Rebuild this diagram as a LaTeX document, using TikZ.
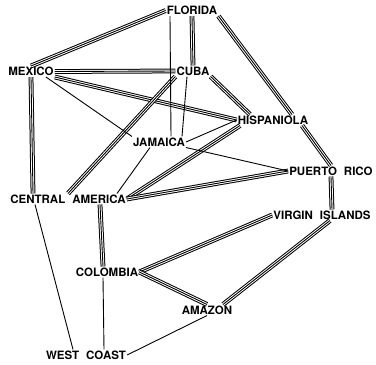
\documentclass[tikz,border=0pt]{standalone}
\usepackage{fontspec}
\setmainfont{TeX Gyre Heros}
\usepackage{tikz}
\usetikzlibrary{calc}

\newcommand{\wsp}{\hspace{7pt}}

\tikzset{
  place/.style={font=\bfseries\fontsize{11.5}{13}\selectfont, inner sep=1pt},
  route/.style={line width=0.9pt},
  mainroute/.style={line width=4.8pt,
    postaction={draw=white, line width=2.8pt},
    postaction={draw=black, line width=0.9pt}},
}

\begin{document}
\begin{tikzpicture}[x=1pt, y=-1pt]
    \useasboundingbox (0,0) rectangle (376,365);
    % Places
    \node[place] (florida) at (192,10.5) {FLORIDA};
    \node[place] (mexico) at (31,71.5) {MEXICO};
    \node[place] (cuba) at (193,71) {CUBA};
    \node[place] (jamaica) at (159,142) {JAMAICA};
    \node[place] (hisp) at (273,120) {HISPANIOLA};
    \node[place] (puerto) at (331,171) {PUERTO\wsp RICO};
    \node[place] (central) at (68,199) {CENTRAL\wsp AMERICA};
    \node[place] (virgin) at (322,215) {VIRGIN\wsp ISLANDS};
    \node[place] (colombia) at (107,272) {COLOMBIA};
    \node[place] (amazon) at (207,310) {AMAZON};
    \node[place] (westcoast) at (86,355) {WEST\wsp COAST};
    % Main routes (triple lines)
    \draw[mainroute] (florida.west) -- (mexico.north);
    \draw[mainroute] (florida.south) -- (cuba.north);
    \draw[mainroute] (florida.south east) -- ([xshift=19pt]hisp.north);
    \draw[mainroute] ([xshift=29pt]hisp.south) -- (puerto.north);
    \draw[mainroute] (mexico.east) -- (cuba.west);
    \draw[mainroute] (mexico.south east) -- (hisp.west);
    \draw[mainroute] (mexico.south) -- ([xshift=-35pt]central.north);
    \draw[mainroute] (cuba.south east) -- ([xshift=-23pt]hisp.north);
    \draw[mainroute] (cuba.south west) -- (central.north);
    \draw[mainroute] ([xshift=-33pt]hisp.south) -- (central.east);
    \draw[mainroute] (puerto.west) -- (central.east);
    \draw[mainroute] (puerto.south) -- ([xshift=10pt]virgin.north);
    \draw[mainroute] (virgin.west) -- (colombia.east);
    \draw[mainroute] ([xshift=8pt]virgin.south) -- ([xshift=16pt]amazon.north);
    \draw[mainroute] (colombia.east) -- (amazon.north);
    \draw[mainroute] ([xshift=32pt]central.south) -- ([xshift=-4pt]colombia.north);
    % Minor routes (single lines)
    \draw[route] ([xshift=-22pt]florida.south) -- ([xshift=12pt]jamaica.north);
    \draw[route] ([xshift=-6pt]cuba.south) -- ([xshift=23pt]jamaica.north);
    \draw[route] ([xshift=15pt]mexico.south) -- (jamaica.north west);
    \draw[route] (jamaica.east) -- (hisp.west);
    \draw[route] (jamaica.south east) -- (puerto.west);
    \draw[route] ([xshift=-9pt]jamaica.south) -- ([xshift=49pt]central.north);
    \draw[route] ([xshift=-33pt]central.south) -- ([xshift=-13pt]westcoast.north);
    \draw[route] ([xshift=-4pt]colombia.south) -- ([xshift=18pt]westcoast.north);
    \draw[route] (amazon.south) -- (westcoast.east);
\end{tikzpicture}
\end{document}
